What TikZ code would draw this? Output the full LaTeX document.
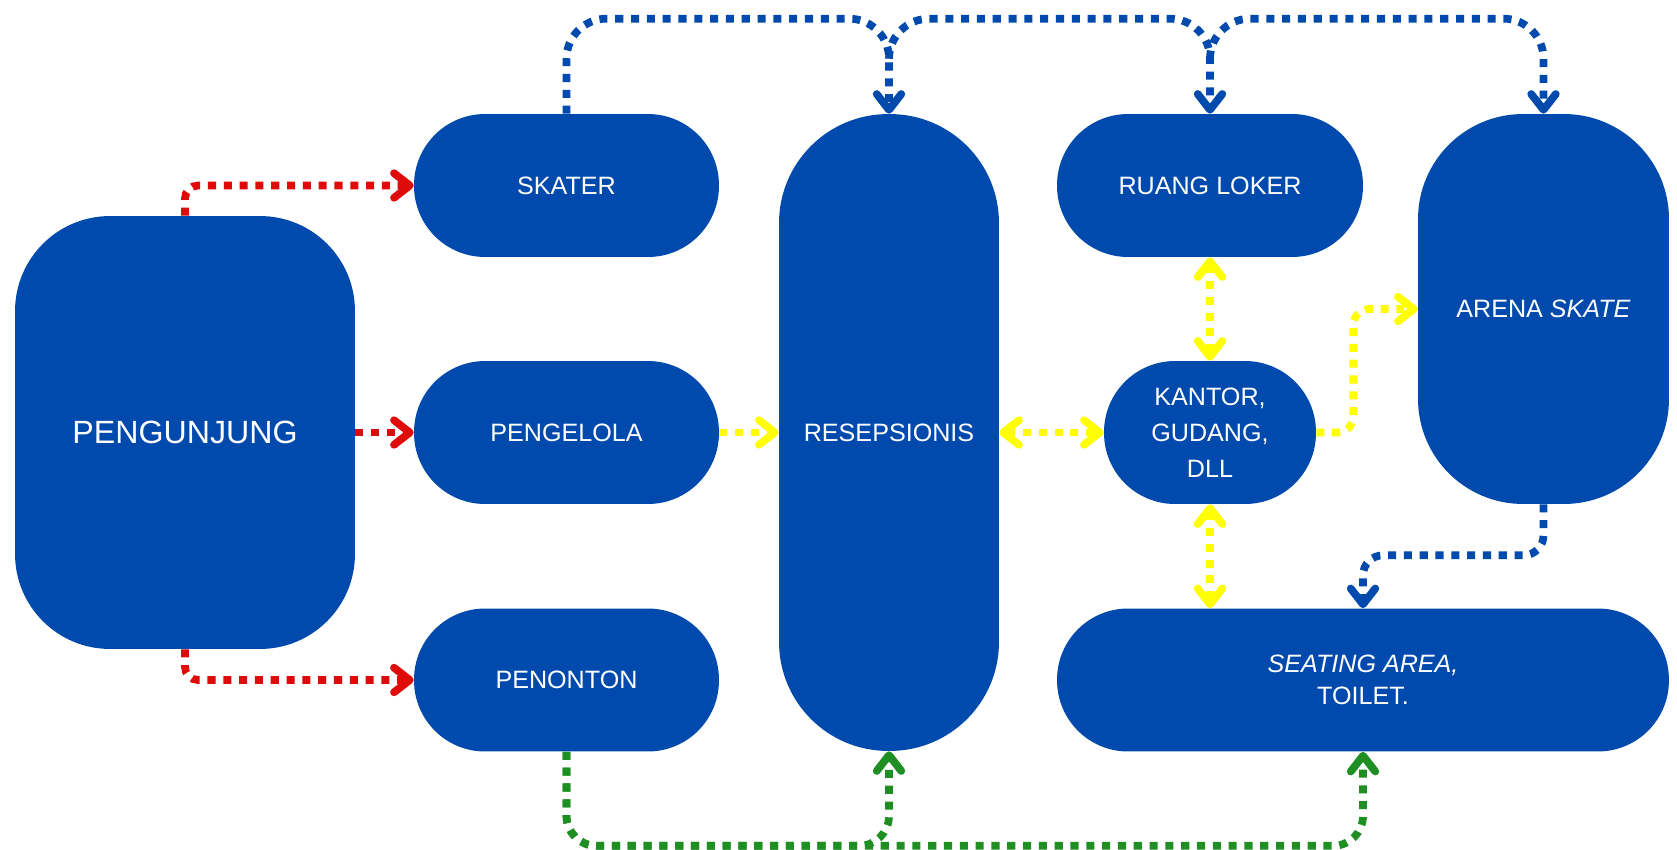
\documentclass[tikz,border=0pt]{standalone}
\usepackage{fontspec}
\setsansfont{Liberation Sans}
\usepackage{xcolor}
\definecolor{FlowBlue}  {HTML}{004AAD}
\definecolor{FlowRed}   {HTML}{DF0A0A}
\definecolor{FlowYellow}{HTML}{FFFF00}
\definecolor{FlowGreen} {HTML}{1F8F23}
\usetikzlibrary{arrows.meta,positioning}

\begin{document}
\begin{tikzpicture}[x=0.02cm,y=-0.02cm,
  >={Straight Barb[round,length=9pt,width=14pt]},
  room/.style={fill=FlowBlue,text=white,inner sep=0pt,align=center,
    font=\sffamily\fontsize{14.3}{20.5}\selectfont},
  pill/.style={room,minimum width=6.1cm,minimum height=2.86cm,
    rounded corners=1.42cm},
  flow/.style={line width=4.4pt,dash pattern=on 4.6pt off 4.4pt},
  redflow/.style={flow,FlowRed,rounded corners=0.26cm},
  yellowflow/.style={flow,FlowYellow,rounded corners=0.32cm},
  blueflow/.style={flow,FlowBlue,rounded corners=0.8cm},
  greenflow/.style={flow,FlowGreen,rounded corners=0.6cm}]
  \useasboundingbox (0,0) rectangle (1677,849);
  \node[room,minimum width=6.8cm,minimum height=8.66cm,rounded corners=1.9cm,
    font=\sffamily\fontsize{18.3}{22}\selectfont](pengunjung) at (185,432.5)
    {PENGUNJUNG};
  \node[pill](skater) at (566.5,185.5){SKATER};
  \node[pill](pengelola) at (566.5,432.5){PENGELOLA};
  \node[pill](penonton) at (566.5,680){PENONTON};
  \node[room,minimum width=4.4cm,minimum height=12.74cm,rounded corners=2.18cm]
    (resep) at (889,432.5){RESEPSIONIS};
  \node[pill,minimum width=6.12cm](loker) at (1210,185.5){RUANG LOKER};
  \node[pill,minimum width=4.24cm](kantor) at (1210,432.5)
    {KANTOR,\\GUDANG,\\DLL};
  \node[room,minimum width=5.02cm,minimum height=7.8cm,rounded corners=2.1cm]
    (arena) at (1543.5,309){ARENA \textit{SKATE}};
  \node[pill,minimum width=12.24cm,font=\sffamily\fontsize{14.3}{18.5}\selectfont]
    (seating) at (1363,680){\textit{SEATING AREA,}\\TOILET.};
  % visitors
  \draw[redflow,->](pengunjung.north)|-(skater.west);
  \draw[redflow,->](pengunjung.east)--(pengelola.west);
  \draw[redflow,->](pengunjung.south)|-(penonton.west);
  % staff
  \draw[yellowflow,->](pengelola.east)--(resep.west);
  \draw[yellowflow,<->](resep.east)--(kantor.west);
  \draw[yellowflow,<->](loker.south)--(kantor.north);
  \draw[yellowflow,<->](kantor.south)--(kantor.south|-seating.north);
  \draw[yellowflow,->](kantor.east)--++(37,0)|-(arena.west);
  % skaters
  \coordinate(jres) at ([yshift=1.1cm]resep.north);
  \coordinate(jlok) at ([yshift=1.1cm]loker.north);
  \draw[blueflow,->](skater.north)--++(0,-95)-|(resep.north);
  \draw[blueflow,->](jres)--++(0,-40)-|(loker.north);
  \draw[blueflow,->](jlok)--++(0,-40)-|(arena.north);
  \draw[blueflow,->,rounded corners=0.4cm](arena.south)--++(0,51)-|(seating.north);
  % spectators
  \draw[greenflow,->](penonton.south)--++(0,94)-|(resep.south);
  \draw[greenflow,->](penonton.south)--++(0,94)-|(seating.south);
\end{tikzpicture}
\end{document}
